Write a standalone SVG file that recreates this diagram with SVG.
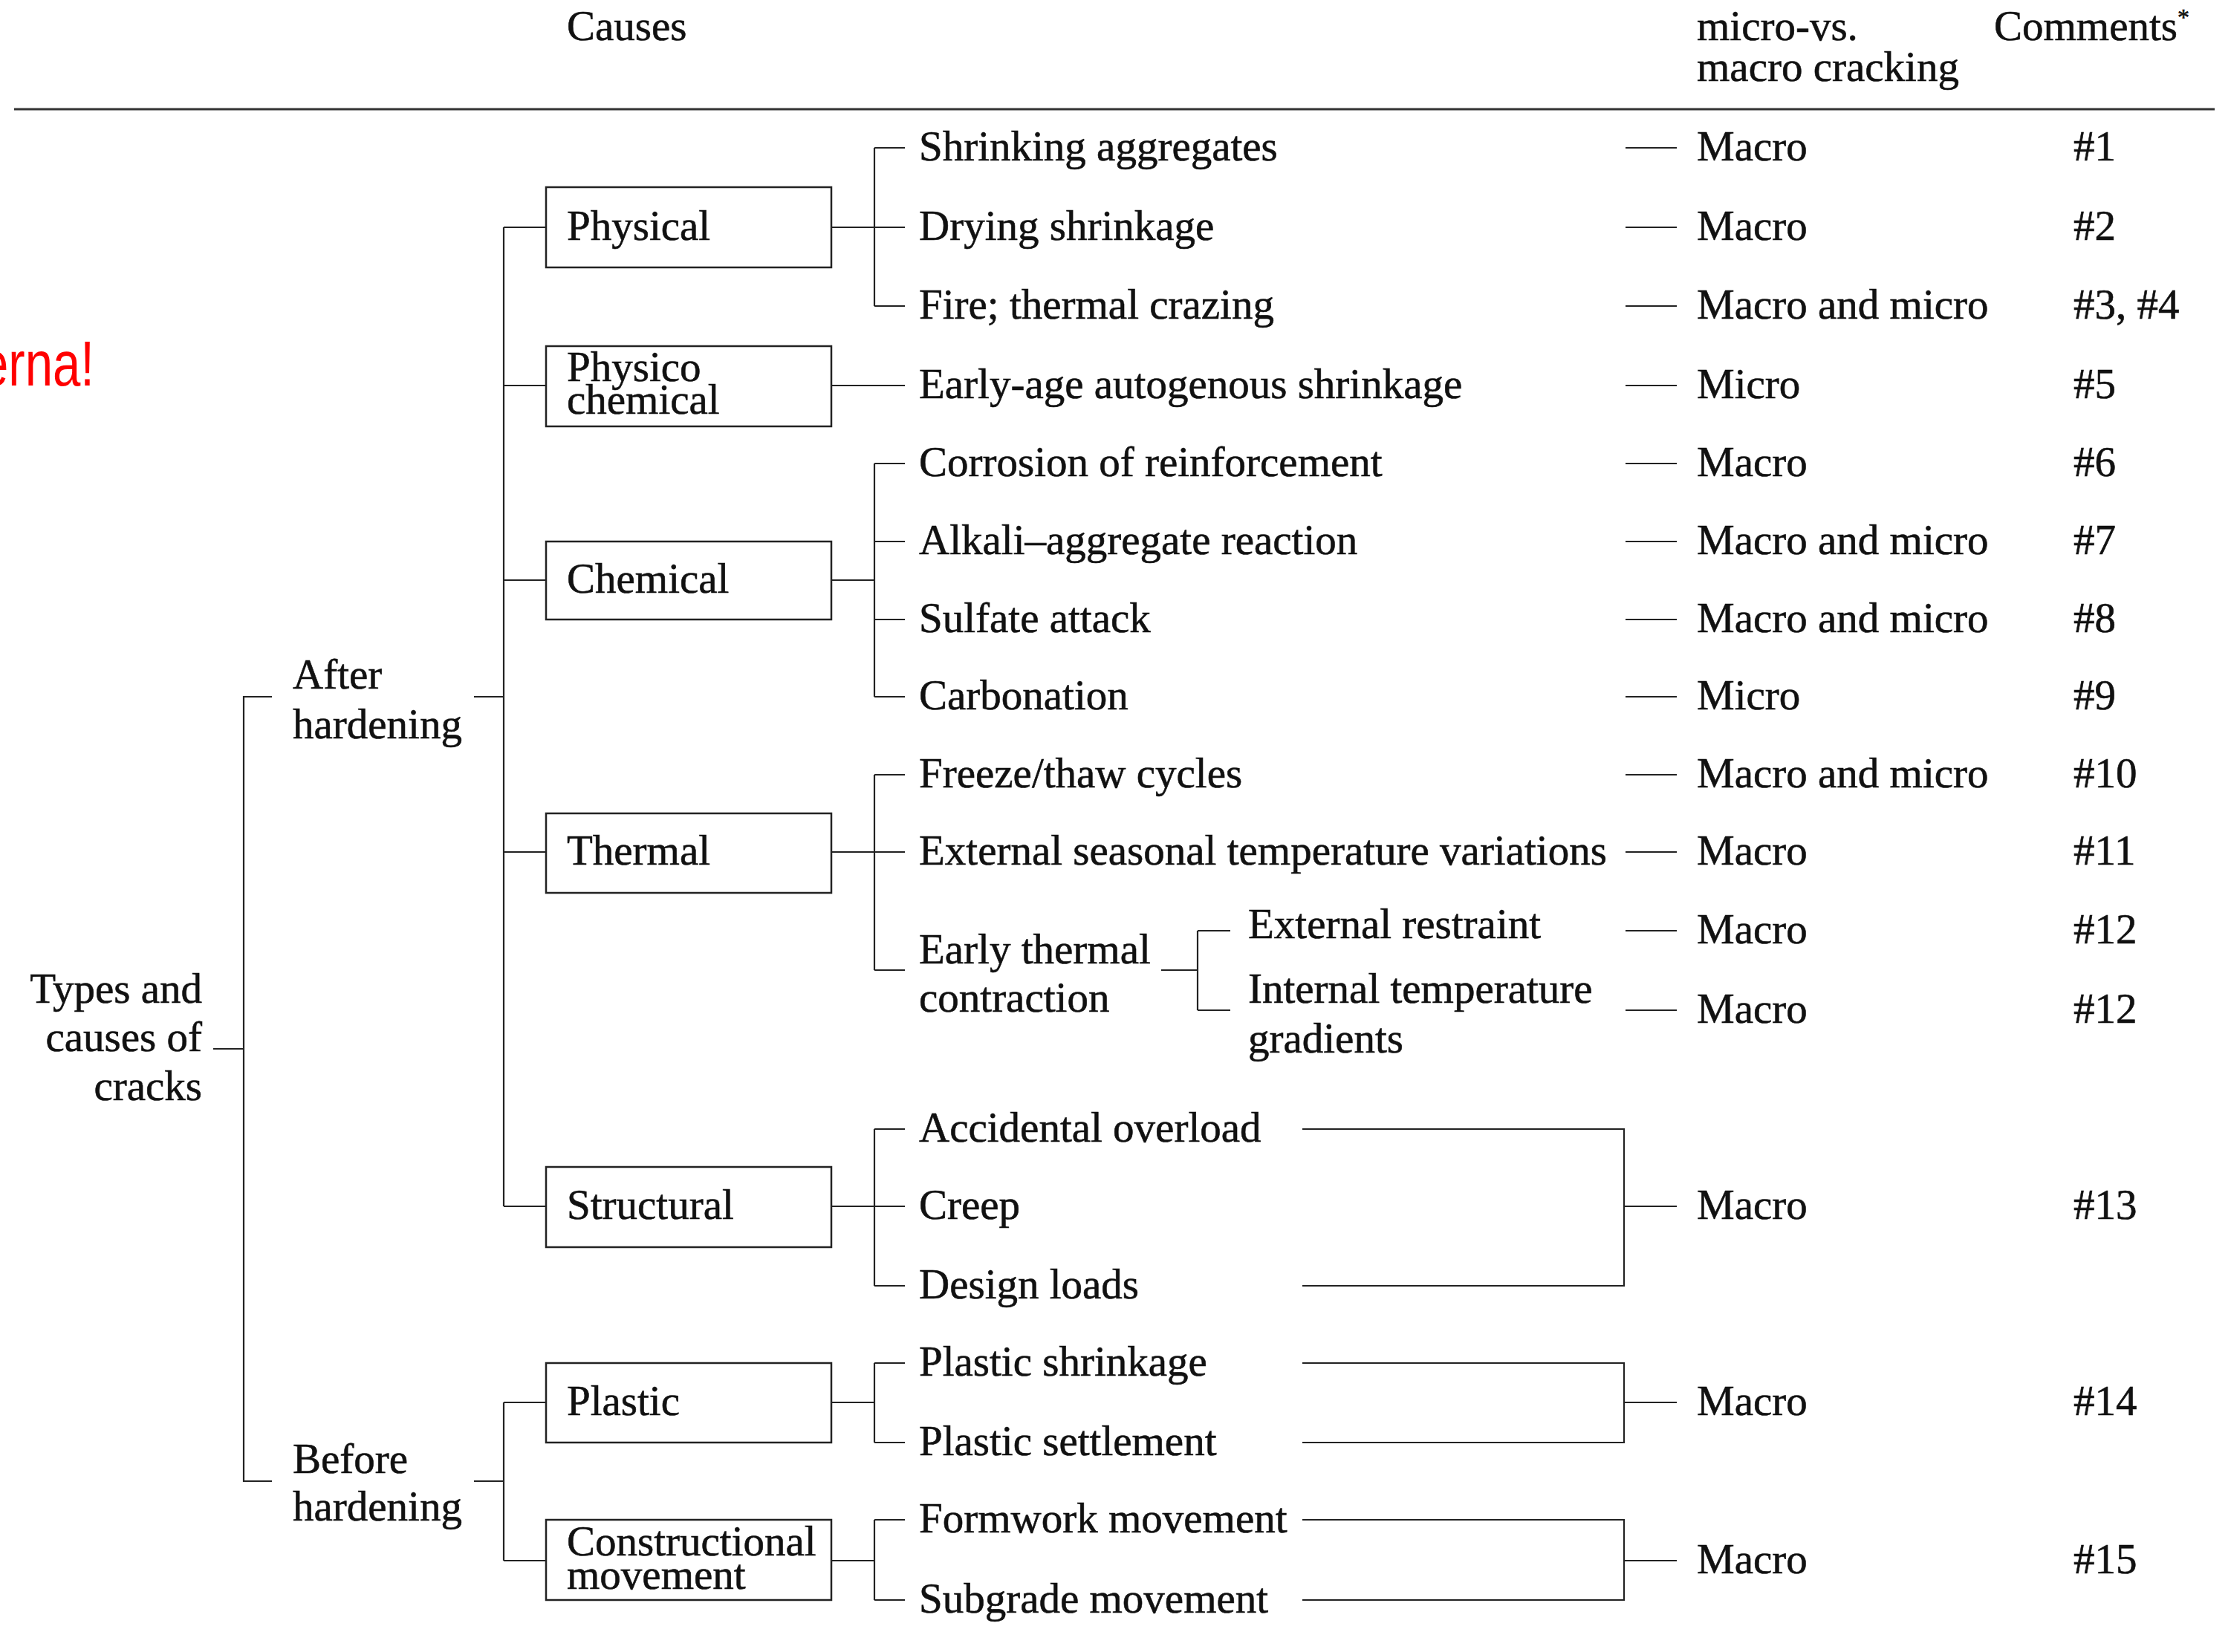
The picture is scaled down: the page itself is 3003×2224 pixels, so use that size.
<svg xmlns="http://www.w3.org/2000/svg" width="3003" height="2224" viewBox="0 0 3003 2224">
<style>
text{font-family:"Liberation Serif","Times New Roman",serif;font-size:57px;fill:#111;stroke:#111;stroke-width:0.6;}
.box{fill:#fff;stroke:#222;stroke-width:2.5;}
.ln{fill:none;stroke:#222;stroke-width:2.2;}
.hdr{stroke:#333;stroke-width:3.2;}
.end{text-anchor:end;}
.red{font-family:"Liberation Sans",Arial,sans-serif;font-size:85px;fill:#ff0000;stroke:none;}
</style>
<rect width="3003" height="2224" fill="#fff"/>
<g id="header">
<text x="763" y="54">Causes</text>
<text x="2284" y="54">micro-vs.</text>
<text x="2284" y="109">macro cracking</text>
<text x="2684" y="54">Comments<tspan font-size="32" dy="-20">*</tspan></text>
<line class="hdr" x1="19" y1="147" x2="2981" y2="147"/>
</g>
<g id="annotation">
<text class="red end" transform="translate(127,519) scale(0.79,1)">erna!</text>
</g>
<g id="connectors">
<path class="ln" d="M287 1412H328M366 938H328V1994H366"/>
<path class="ln" d="M638 938H678M678 306V1624M678 306H735M678 519H735M678 781H735M678 1147H735M678 1624H735"/>
<path class="ln" d="M638 1994H678M678 1888V2101M678 1888H735M678 2101H735"/>
<path class="ln" d="M1119 306H1177M1177 199V412M1177 199H1218M1177 306H1218M1177 412H1218"/>
<path class="ln" d="M1119 519H1218"/>
<path class="ln" d="M1119 781H1177M1177 624V938M1177 624H1218M1177 729H1218M1177 834H1218M1177 938H1218"/>
<path class="ln" d="M1119 1147H1177M1177 1043V1306M1177 1043H1218M1177 1147H1218M1177 1306H1218"/>
<path class="ln" d="M1563 1306H1612M1612 1253V1360M1612 1253H1656M1612 1360H1656"/>
<path class="ln" d="M1119 1624H1177M1177 1520V1731M1177 1520H1218M1177 1624H1218M1177 1731H1218"/>
<path class="ln" d="M1119 1888H1177M1177 1835V1942M1177 1835H1218M1177 1942H1218"/>
<path class="ln" d="M1119 2101H1177M1177 2046V2154M1177 2046H1218M1177 2154H1218"/>
<path class="ln" d="M2188 199H2257M2188 306H2257M2188 412H2257M2188 519H2257M2188 624H2257M2188 729H2257M2188 834H2257M2188 938H2257M2188 1043H2257M2188 1147H2257M2188 1253H2257M2188 1360H2257"/>
<path class="ln" d="M1753 1520H2186V1731H1753M2186 1624H2257"/>
<path class="ln" d="M1753 1835H2186V1942H1753M2186 1888H2257"/>
<path class="ln" d="M1753 2046H2186V2154H1753M2186 2101H2257"/>
</g>
<g id="root"><text class="end" x="272" y="1350">Types and</text><text class="end" x="272" y="1415">causes of</text><text class="end" x="272" y="1481">cracks</text></g>
<g id="after-hardening"><text x="394" y="927">After</text><text x="394" y="994">hardening</text></g>
<g id="before-hardening"><text x="394" y="1983">Before</text><text x="394" y="2047">hardening</text></g>
<g id="physical"><rect class="box" x="735" y="252" width="384" height="108"/><text x="763" y="323">Physical</text></g>
<g id="physico-chemical"><rect class="box" x="735" y="466" width="384" height="108"/><text x="763" y="513">Physico</text><text x="763" y="557">chemical</text></g>
<g id="chemical"><rect class="box" x="735" y="729" width="384" height="105"/><text x="763" y="798">Chemical</text></g>
<g id="thermal"><rect class="box" x="735" y="1095" width="384" height="107"/><text x="763" y="1164">Thermal</text></g>
<g id="structural"><rect class="box" x="735" y="1571" width="384" height="108"/><text x="763" y="1641">Structural</text></g>
<g id="plastic"><rect class="box" x="735" y="1835" width="384" height="107"/><text x="763" y="1905">Plastic</text></g>
<g id="constructional"><rect class="box" x="735" y="2046" width="384" height="108"/><text x="763" y="2094">Constructional</text><text x="763" y="2139">movement</text></g>
<g id="causes">
<text x="1237" y="216">Shrinking aggregates</text>
<text x="1237" y="323">Drying shrinkage</text>
<text x="1237" y="429">Fire; thermal crazing</text>
<text x="1237" y="536">Early-age autogenous shrinkage</text>
<text x="1237" y="641">Corrosion of reinforcement</text>
<text x="1237" y="746">Alkali–aggregate reaction</text>
<text x="1237" y="851">Sulfate attack</text>
<text x="1237" y="955">Carbonation</text>
<text x="1237" y="1060">Freeze/thaw cycles</text>
<text x="1237" y="1164">External seasonal temperature variations</text>
<text x="1237" y="1297">Early thermal</text>
<text x="1237" y="1362">contraction</text>
<text x="1680" y="1263">External restraint</text>
<text x="1680" y="1350">Internal temperature</text>
<text x="1680" y="1417">gradients</text>
<text x="1237" y="1537">Accidental overload</text>
<text x="1237" y="1641">Creep</text>
<text x="1237" y="1748">Design loads</text>
<text x="1237" y="1852">Plastic shrinkage</text>
<text x="1237" y="1959">Plastic settlement</text>
<text x="1237" y="2063">Formwork movement</text>
<text x="1237" y="2171">Subgrade movement</text>
</g>
<g id="cracking">
<text x="2284" y="216">Macro</text>
<text x="2284" y="323">Macro</text>
<text x="2284" y="429">Macro and micro</text>
<text x="2284" y="536">Micro</text>
<text x="2284" y="641">Macro</text>
<text x="2284" y="746">Macro and micro</text>
<text x="2284" y="851">Macro and micro</text>
<text x="2284" y="955">Micro</text>
<text x="2284" y="1060">Macro and micro</text>
<text x="2284" y="1164">Macro</text>
<text x="2284" y="1270">Macro</text>
<text x="2284" y="1377">Macro</text>
<text x="2284" y="1641">Macro</text>
<text x="2284" y="1905">Macro</text>
<text x="2284" y="2118">Macro</text>
</g>
<g id="comments">
<text x="2791" y="216">#1</text>
<text x="2791" y="323">#2</text>
<text x="2791" y="429">#3, #4</text>
<text x="2791" y="536">#5</text>
<text x="2791" y="641">#6</text>
<text x="2791" y="746">#7</text>
<text x="2791" y="851">#8</text>
<text x="2791" y="955">#9</text>
<text x="2791" y="1060">#10</text>
<text x="2791" y="1164">#11</text>
<text x="2791" y="1270">#12</text>
<text x="2791" y="1377">#12</text>
<text x="2791" y="1641">#13</text>
<text x="2791" y="1905">#14</text>
<text x="2791" y="2118">#15</text>
</g>
</svg>
